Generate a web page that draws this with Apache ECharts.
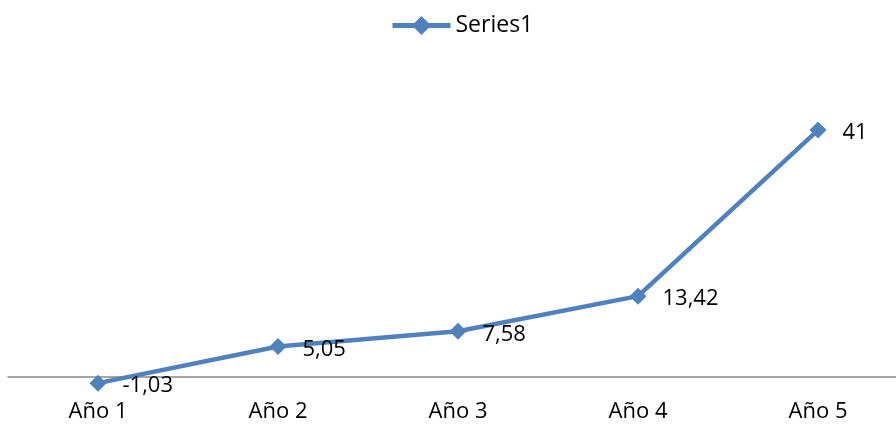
<!DOCTYPE html>
<html>
<head>
<meta charset="utf-8">
<script src="https://cdn.jsdelivr.net/npm/echarts@6/dist/echarts.min.js"></script>
<style>
  html, body { margin: 0; padding: 0; background: #fff; }
  #chart { width: 896px; height: 424px; }
</style>
</head>
<body>
<div id="chart"></div>
<script>
// Categories and values of the series
const categories = ['Año 1', 'Año 2', 'Año 3', 'Año 4', 'Año 5'];
const seriesName = 'Series1';
const values = [-1.03, 5.05, 7.58, 13.42, 41];

const FONT = 'Open Sans';
const fmt = v => String(v).replace('.', ',');

const chart = echarts.init(document.getElementById('chart'), null, { renderer: 'canvas' });
chart.setOption({
  animation: false,
  backgroundColor: '#ffffff',
  legend: {
    top: 9,
    left: 385,
    itemWidth: 58,
    itemHeight: 24,
    itemGap: 0,
    lineStyle: { width: 5 },
    textStyle: { fontFamily: FONT, fontSize: 23, color: '#000' },
    data: [seriesName]
  },
  grid: { left: 8, right: -12, top: 106, bottom: 35, outerBoundsMode: 'none', containLabel: false },
  xAxis: {
    type: 'category',
    data: categories,
    boundaryGap: true,
    axisLine: { onZero: true, lineStyle: { color: '#868686', width: 1.5 } },
    axisTick: { show: false },
    axisLabel: { fontFamily: FONT, fontSize: 22, color: '#000', margin: 12 }
  },
  yAxis: {
    type: 'value',
    min: -2,
    max: 45,
    show: false,
    splitLine: { show: false }
  },
  series: [{
    name: seriesName,
    type: 'line',
    data: values,
    symbol: 'diamond',
    symbolSize: 17,
    itemStyle: { color: '#4F81BD' },
    lineStyle: { color: '#4F81BD', width: 4.5 },
    label: {
      show: true,
      position: 'right',
      distance: 16,
      offset: [0, 3],
      formatter: p => fmt(p.value),
      fontFamily: FONT,
      fontSize: 22,
      color: '#000'
    }
  }]
});
</script>
</body>
</html>
